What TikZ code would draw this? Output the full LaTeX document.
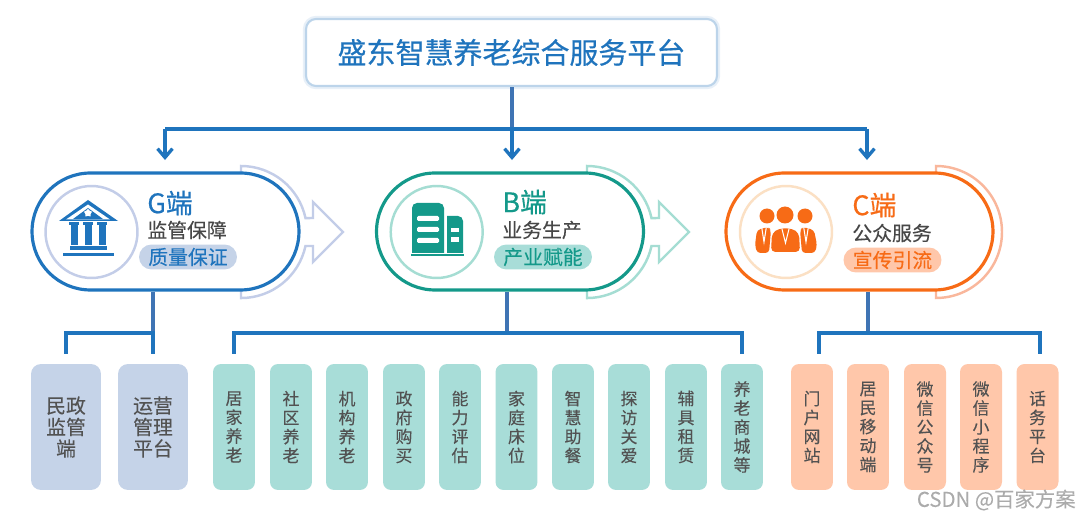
\documentclass[tikz,border=0pt]{standalone}
\usepackage{fontspec}
\usepackage{xcolor}
\usetikzlibrary{positioning,calc,arrows.meta,shapes.misc,shapes.geometric}
\newfontfamily\cjk[FakeBold=0.15]{Noto Sans CJK SC}
\newfontfamily\cjkheavy[FakeBold=0.5]{Noto Sans CJK SC}
\definecolor{mainblue}{HTML}{1F74BD}
\definecolor{stemblue}{HTML}{3F74B4}
\definecolor{titleglow}{HTML}{BCD4EA}
\definecolor{gline}{HTML}{1F74BD}
\definecolor{gpale}{HTML}{C3CDE8}
\definecolor{gfill}{HTML}{C5D3E8}
\definecolor{bline}{HTML}{14998A}
\definecolor{bpale}{HTML}{A5DDD3}
\definecolor{bfill}{HTML}{A8DDD8}
\definecolor{cline}{HTML}{F76B16}
\definecolor{cpale}{HTML}{F9B79C}
\definecolor{cfill}{HTML}{FFC7AA}
\definecolor{cglow}{HTML}{FBE0C4}
\tikzset{
    titlebox/.style={rectangle,rounded corners=0.2cm,draw=titleglow,line width=1.2pt,fill=white,
        preaction={draw=titleglow!35,line width=3.6pt},minimum width=8.22cm,minimum height=1.34cm,inner sep=0pt,
        text=mainblue,font=\cjkheavy\fontsize{16.5}{18}\selectfont},
    pill/.style={rounded rectangle,draw=#1,line width=1.8pt,fill=white,minimum width=5.34cm,minimum height=2.34cm,inner sep=0pt},
    ring/.style={circle,draw=#1,line width=1.4pt,fill=white,minimum size=1.84cm,inner sep=0pt},
    headtext/.style={anchor=west,inner sep=0pt,text=#1,font=\cjkheavy\fontsize{15.3}{17}\selectfont},
    subtext/.style={anchor=west,inner sep=0pt,text=black!72,font=\cjk\fontsize{11.3}{13}\selectfont},
    tagbox/.style={rounded rectangle,fill=#1,minimum width=1.96cm,minimum height=0.5cm,inner sep=0pt,font=\cjk\fontsize{11.3}{13}\selectfont},
    widebox/.style={rectangle,rounded corners=0.2cm,fill=gfill,minimum width=1.4cm,minimum height=2.52cm,inner sep=0pt,
        align=center,text=black!68,font=\cjk\fontsize{11.3}{12.2}\selectfont},
    slimbox/.style={rectangle,rounded corners=0.16cm,fill=#1,minimum width=0.84cm,minimum height=2.52cm,inner sep=0pt,
        align=center,text=black!68,font=\cjk\fontsize{9.6}{10.8}\selectfont},
    bus/.style={draw=mainblue,line width=1.9pt},
    feed/.style={bus,-{Straight Barb[length=5pt,width=8.5pt]},shorten >=6.5pt},
    stem/.style={draw=stemblue,line width=2pt},
}
\begin{document}
\begin{tikzpicture}[x=0.02cm,y=-0.02cm]
\useasboundingbox (0,0) rectangle (1080,517);
% arrows behind the pills
\foreach \cx/\col in {241/gpale,587/bpale} {
    \draw[draw=\col,line width=1.4pt,fill=white,line join=miter]
        (\cx,166) arc[start angle=-90,end angle=-12.2,radius=66]
        -- ({\cx+72},218) -- ({\cx+72},202) -- ({\cx+102},232) -- ({\cx+72},262) -- ({\cx+72},246)
        -- ({\cx+64.5},246) arc[start angle=12.2,end angle=90,radius=66] -- cycle;
}
\draw[draw=cpale,line width=1.4pt,fill=white] (936,166) arc[start angle=-90,end angle=90,radius=66] -- cycle;

\node (title) at (511.5,52.5) [titlebox] {盛东智慧养老综合服务平台};
\node (pillg) at (165.5,231.5) [pill=gline] {};
\node (pillb) at (510,231.5) [pill=bline] {};
\node (pillc) at (859.5,231.5) [pill=cline] {};
\node (ringg) at (91.5,232) [ring=gpale] {};
\node (ringb) at (436.7,232) [ring=bpale] {};
\node (ringc) at (786,232) [ring=cglow] {};

\node (headg) at (147,203) [headtext=gline] {G端};
\node (subg) at (147,230) [subtext] {监管保障};
\node (tagg) at (188,257) [tagbox=gfill,text=mainblue] {质量保证};
\node (headb) at (502,202) [headtext=bline] {B端};
\node (subb) at (502,230) [subtext] {业务生产};
\node (tagb) at (543,257) [tagbox=bfill,text=bline] {产业赋能};
\node (headc) at (852,205) [headtext=cline] {C端};
\node (subc) at (852,233) [subtext] {公众服务};
\node (tagc) at (892.5,260) [tagbox=cfill,text=cline] {宣传引流};

% bank icon
\fill[gline] (88,200) -- (118,221) -- (59,221) -- cycle;
\fill[white] (88,204.5) -- (110,219.5) -- (66,219.5) -- cycle;
\fill[gline] (88,208) -- (103,219) -- (73,219) -- cycle;
\node (bankstar) at (88,213) [star,star points=5,fill=white,minimum size=0.17cm,inner sep=0pt] {};
\foreach \cx in {74,88,102} {
    \fill[gline] ({\cx-5},222) rectangle ({\cx+5},225);
    \fill[gline] ({\cx-3.5},225) rectangle ({\cx+3.5},245);
}
\fill[gline] (70,246) rectangle (107,250);
\fill[gline] (63,253) rectangle (114,256);

% building icon
\fill[bline] (412,253) -- (412,208) arc[start angle=180,end angle=270,radius=5] -- (439,203) arc[start angle=-90,end angle=0,radius=5] -- (444,253) -- cycle;
\fill[bline] (447,253) -- (447,216) -- (458,216) arc[start angle=-90,end angle=0,radius=5] -- (463,253) -- cycle;
\fill[bline] (411,254) rectangle (464,256.5);
\foreach \yy in {216,227,238} {
    \fill[white,rounded corners=0.8pt] (417,\yy) rectangle (439,{\yy+5});
}
\fill[white] (451,228) rectangle (459,232.5);
\fill[white] (451,237) rectangle (459,242);

% people icon
\fill[cline] (785,215) circle (8.5);
\fill[cline] (767,216) circle (7.5);
\fill[cline] (805,216) circle (7.5);
\fill[cline,rounded corners=2.5pt] (771,252) -- (772,233) -- (779,228.5) -- (792,228.5) -- (799,233) -- (800,252) -- cycle;
\fill[cline,rounded corners=2pt] (757,253) -- (755,245) -- (757,230) -- (768,227) -- (771,230) -- (769,253) -- cycle;
\fill[cline,rounded corners=2pt] (802,253) -- (800,230) -- (803,227) -- (814,230) -- (817,245) -- (815,253) -- cycle;
\foreach \cx/\yy/\tw in {785.5/229/3.5,764/228/2.2,806/228/2.2} {
    \draw[white,line width=0.6pt] ({\cx-\tw},\yy) -- (\cx,{\yy+14}) -- ({\cx+\tw},\yy);
}

% lower boxes
\node (gbox1) at (66,427) [widebox] {民政\\监管\\端};
\node (gbox2) at (153,427) [widebox] {运营\\管理\\平台};
\foreach \i/\x/\txt in {1/234/{居\\家\\养\\老},2/291/{社\\区\\养\\老},3/347/{机\\构\\养\\老},4/404/{政\\府\\购\\买},5/460/{能\\力\\评\\估},6/516.5/{家\\庭\\床\\位},7/573/{智\\慧\\助\\餐},8/629/{探\\访\\关\\爱},9/686/{辅\\具\\租\\赁},10/742/{养\\老\\商\\城\\等}} {
    \node (bbox\i) at (\x,427) [slimbox=bfill] {\txt};
}
\foreach \i/\x/\txt in {1/812/{门\\户\\网\\站},2/868/{居\\民\\移\\动\\端},3/925/{微\\信\\公\\众\\号},4/981/{微\\信\\小\\程\\序},5/1037.5/{话\\务\\平\\台}} {
    \node (cbox\i) at (\x,427) [slimbox=cfill] {\txt};
}

% top connectors
\coordinate (busg) at (165,129);
\coordinate (busc) at (867,129);
\coordinate (busb) at (512,129);
\draw[stem] (busb |- title.south) -- (busb);
\draw[bus] (busg) -- (busc);
\draw[feed] (busg) -- (busg |- pillg.north);
\draw[feed] (busb) -- (busb |- pillb.north);
\draw[feed] (busc) -- (busc |- pillc.north);

% lower connectors
\coordinate (hubg) at (153,333);
\coordinate (hubb) at (507,333);
\coordinate (hubc) at (868,333);
\coordinate (endc1) at (819,354);
\coordinate (endc2) at (1040,354);
\draw[stem] (hubg |- pillg.south) -- (hubg);
\draw[stem] (hubb |- pillb.south) -- (hubb);
\draw[stem] (hubc |- pillc.south) -- (hubc);
\draw[bus,line join=miter] ($(gbox1.north)+(0,-10)$) -- (gbox1.north |- hubg) -- (hubg) -- ($(gbox2.north)+(0,-10)$);
\draw[bus,line join=miter] ($(bbox1.north)+(0,-10)$) -- (bbox1.north |- hubb) -- (bbox10.north |- hubb) -- ($(bbox10.north)+(0,-10)$);
\draw[bus,line join=miter] (endc1) -- (endc1 |- hubc) -- (endc2 |- hubc) -- (endc2);

\node (mark) at (1076,500) [anchor=east,inner sep=0pt,text=black!33,font=\cjk\fontsize{11.6}{13}\selectfont] {CSDN @百家方案};
\end{tikzpicture}
\end{document}
